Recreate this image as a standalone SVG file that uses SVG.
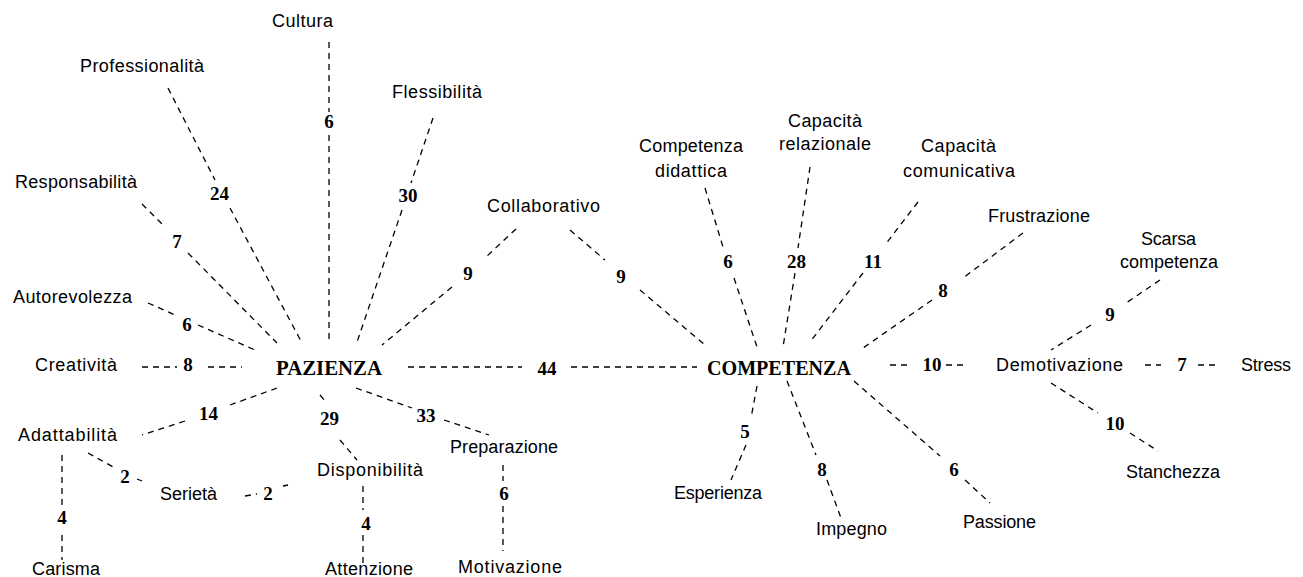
<svg xmlns="http://www.w3.org/2000/svg" width="1303" height="577" viewBox="0 0 1303 577">
<style>
.lb{font-family:"Liberation Sans",Arial,sans-serif;font-size:18px;fill:#000}
.hub{font-family:"Liberation Serif","Times New Roman",serif;font-size:21px;font-weight:bold;fill:#000}
.n{font-family:"Liberation Serif","Times New Roman",serif;font-size:19px;font-weight:bold;fill:#000;text-anchor:middle}
.c line{stroke:#000;stroke-width:1.3;stroke-dasharray:6 5;fill:none}
</style>
<rect width="1303" height="577" fill="#fff"/>
<g class="c" id="connectors">
<line x1="329" y1="42" x2="329" y2="112"/><line x1="329" y1="135" x2="329" y2="343"/>
<line x1="168" y1="88" x2="215" y2="180"/><line x1="230" y1="208" x2="302" y2="343"/>
<line x1="433" y1="118" x2="411" y2="183"/><line x1="402" y1="210" x2="356" y2="345"/>
<line x1="142" y1="204" x2="165" y2="227"/><line x1="188" y1="253" x2="277" y2="343"/>
<line x1="516" y1="229" x2="486" y2="257"/><line x1="452" y1="287" x2="382" y2="345"/>
<line x1="148" y1="303" x2="175" y2="315"/><line x1="198" y1="325" x2="255" y2="350"/>
<line x1="142" y1="367" x2="177" y2="367"/><line x1="208" y1="367" x2="242" y2="367"/>
<line x1="408" y1="367" x2="522" y2="367"/><line x1="571" y1="367" x2="697" y2="367"/>
<line x1="277" y1="388" x2="230" y2="405"/><line x1="185" y1="421" x2="142" y2="435"/>
<line x1="62" y1="455" x2="62" y2="505"/><line x1="62" y1="535" x2="62" y2="560"/>
<line x1="88" y1="453" x2="115" y2="468"/><line x1="137" y1="479" x2="142" y2="481"/>
<line x1="245" y1="496" x2="257" y2="494"/><line x1="283" y1="486" x2="288" y2="485"/>
<line x1="320" y1="395" x2="326" y2="402"/><line x1="340" y1="440" x2="357" y2="460"/>
<line x1="363" y1="486" x2="363" y2="510"/><line x1="363" y1="535" x2="363" y2="565"/>
<line x1="356" y1="388" x2="412" y2="408"/><line x1="444" y1="420" x2="489" y2="435"/>
<line x1="503" y1="465" x2="503" y2="481"/><line x1="503" y1="506" x2="503" y2="551"/>
<line x1="570" y1="230" x2="605" y2="260"/><line x1="640" y1="290" x2="705" y2="345"/>
<line x1="705" y1="188" x2="723" y2="247"/><line x1="734" y1="278" x2="758" y2="350"/>
<line x1="810" y1="167" x2="798" y2="248"/><line x1="795" y1="273" x2="783" y2="347"/>
<line x1="918" y1="202" x2="885" y2="245"/><line x1="863" y1="273" x2="810" y2="342"/>
<line x1="1023" y1="233" x2="963" y2="278"/><line x1="932" y1="300" x2="863" y2="348"/>
<line x1="1160" y1="280" x2="1126" y2="303"/><line x1="1091" y1="325" x2="1051" y2="350"/>
<line x1="890" y1="365" x2="911" y2="365"/><line x1="946" y1="365" x2="965" y2="365"/>
<line x1="1145" y1="365" x2="1161" y2="365"/><line x1="1198" y1="365" x2="1220" y2="365"/>
<line x1="1051" y1="383" x2="1098" y2="413"/><line x1="1130" y1="433" x2="1158" y2="451"/>
<line x1="757" y1="386" x2="751" y2="418"/><line x1="746" y1="445" x2="731" y2="480"/>
<line x1="787" y1="381" x2="816" y2="455"/><line x1="827" y1="480" x2="841" y2="518"/>
<line x1="854" y1="381" x2="940" y2="456"/><line x1="965" y1="480" x2="990" y2="503"/>
</g>
<g id="weights">
<text class="n" x="329" y="128">6</text>
<text class="n" x="219.5" y="200">24</text>
<text class="n" x="408" y="202">30</text>
<text class="n" x="177" y="248">7</text>
<text class="n" x="468" y="280">9</text>
<text class="n" x="187" y="331">6</text>
<text class="n" x="188" y="371">8</text>
<text class="n" x="547" y="375">44</text>
<text class="n" x="208.5" y="420">14</text>
<text class="n" x="62" y="524">4</text>
<text class="n" x="125" y="483">2</text>
<text class="n" x="268" y="500">2</text>
<text class="n" x="329.5" y="425">29</text>
<text class="n" x="366" y="530">4</text>
<text class="n" x="426" y="422">33</text>
<text class="n" x="504" y="500">6</text>
<text class="n" x="621" y="283">9</text>
<text class="n" x="728" y="268">6</text>
<text class="n" x="796.5" y="268">28</text>
<text class="n" x="873" y="268">11</text>
<text class="n" x="943" y="297">8</text>
<text class="n" x="1110" y="321">9</text>
<text class="n" x="932" y="371">10</text>
<text class="n" x="1182" y="371">7</text>
<text class="n" x="1115" y="430">10</text>
<text class="n" x="745" y="438">5</text>
<text class="n" x="822" y="476">8</text>
<text class="n" x="954" y="476">6</text>
</g>
<g id="pazienza"><text class="hub" x="276" y="375" textLength="106" lengthAdjust="spacingAndGlyphs">PAZIENZA</text></g>
<g id="competenza"><text class="hub" x="707" y="375" textLength="144" lengthAdjust="spacingAndGlyphs">COMPETENZA</text></g>
<g id="cultura"><text class="lb" x="272" y="27" textLength="61">Cultura</text></g>
<g id="professionalita"><text class="lb" x="80" y="72" textLength="124">Professionalità</text></g>
<g id="flessibilita"><text class="lb" x="392" y="98" textLength="90">Flessibilità</text></g>
<g id="responsabilita"><text class="lb" x="15" y="188" textLength="122">Responsabilità</text></g>
<g id="collaborativo"><text class="lb" x="487" y="212" textLength="113">Collaborativo</text></g>
<g id="autorevolezza"><text class="lb" x="13" y="303" textLength="119">Autorevolezza</text></g>
<g id="creativita"><text class="lb" x="35" y="371" textLength="82">Creatività</text></g>
<g id="adattabilita"><text class="lb" x="18" y="441" textLength="99">Adattabilità</text></g>
<g id="serieta"><text class="lb" x="160" y="500" textLength="57">Serietà</text></g>
<g id="disponibilita"><text class="lb" x="317" y="476" textLength="106">Disponibilità</text></g>
<g id="preparazione"><text class="lb" x="450" y="453" textLength="108">Preparazione</text></g>
<g id="carisma"><text class="lb" x="32" y="575" textLength="68">Carisma</text></g>
<g id="attenzione"><text class="lb" x="325" y="575" textLength="88">Attenzione</text></g>
<g id="motivazione"><text class="lb" x="458" y="573" textLength="104">Motivazione</text></g>
<g id="competenza-didattica"><text class="lb" x="639" y="152" textLength="104">Competenza</text><text class="lb" x="655" y="177" textLength="72">didattica</text></g>
<g id="capacita-relazionale"><text class="lb" x="788" y="127" textLength="74">Capacità</text><text class="lb" x="779" y="150" textLength="92">relazionale</text></g>
<g id="capacita-comunicativa"><text class="lb" x="921" y="152" textLength="75">Capacità</text><text class="lb" x="903" y="177" textLength="112">comunicativa</text></g>
<g id="frustrazione"><text class="lb" x="988" y="222" textLength="102">Frustrazione</text></g>
<g id="scarsa-competenza"><text class="lb" x="1141" y="245" textLength="55">Scarsa</text><text class="lb" x="1120" y="268" textLength="98">competenza</text></g>
<g id="demotivazione"><text class="lb" x="996" y="371" textLength="127">Demotivazione</text></g>
<g id="stress"><text class="lb" x="1241" y="371" textLength="50">Stress</text></g>
<g id="stanchezza"><text class="lb" x="1126" y="478" textLength="94">Stanchezza</text></g>
<g id="esperienza"><text class="lb" x="674" y="499" textLength="88">Esperienza</text></g>
<g id="impegno"><text class="lb" x="816" y="535" textLength="71">Impegno</text></g>
<g id="passione"><text class="lb" x="963" y="528" textLength="73">Passione</text></g>
</svg>
